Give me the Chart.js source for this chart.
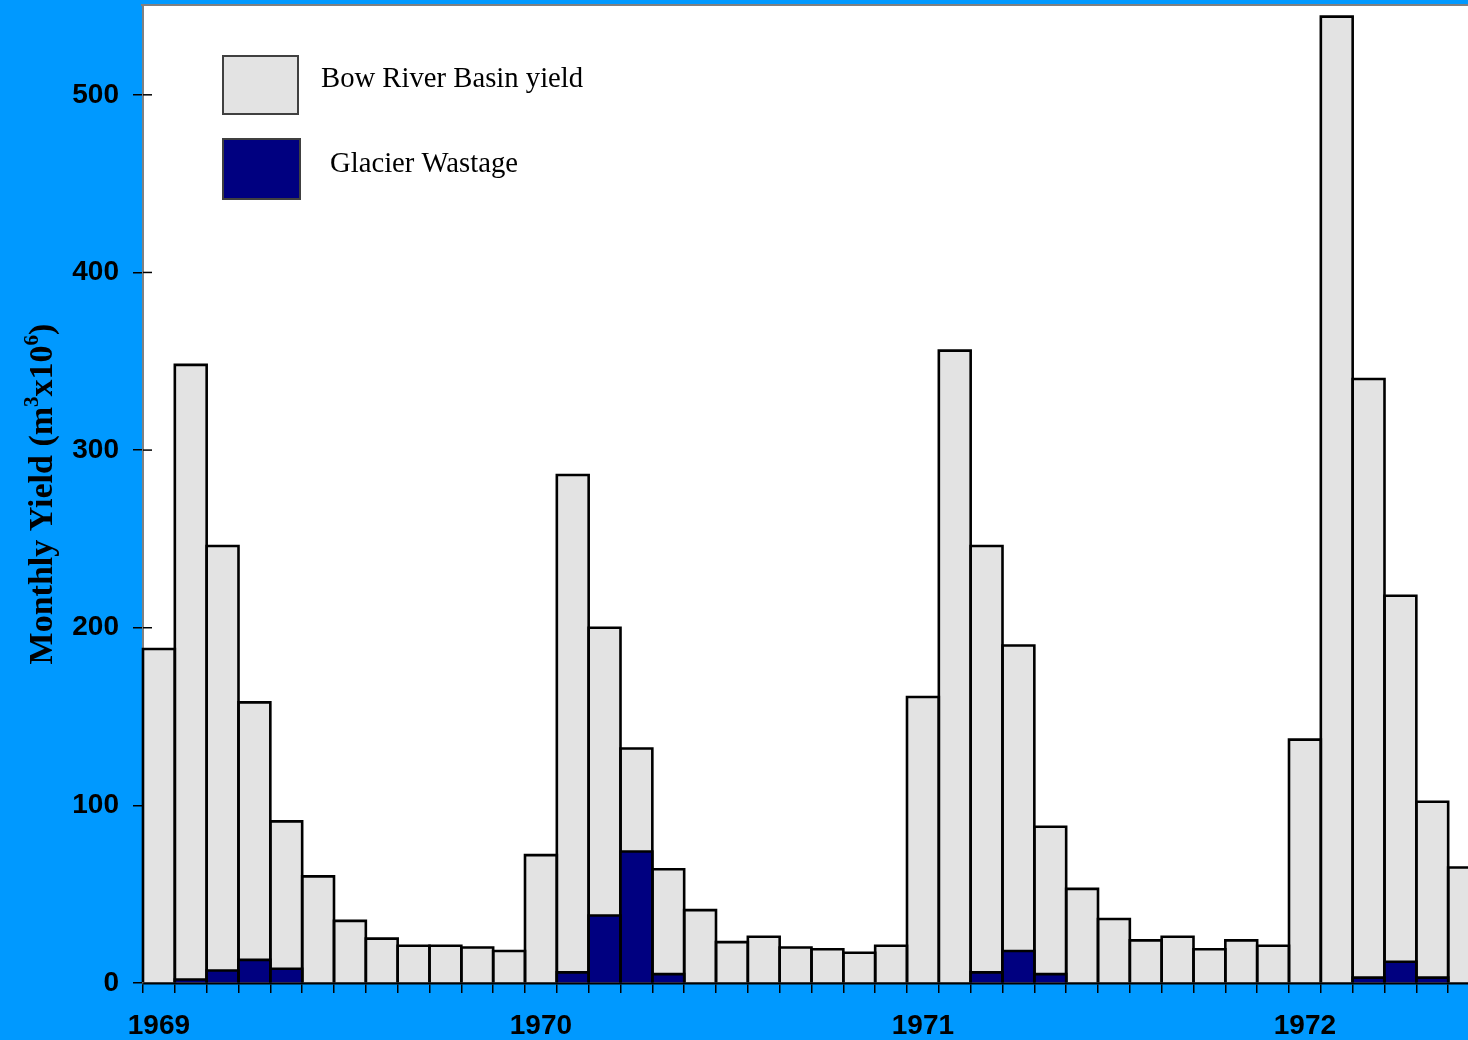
<!DOCTYPE html>
<html>
<head>
<meta charset="utf-8">
<script src="https://cdn.jsdelivr.net/npm/chart.js@4/dist/chart.umd.min.js"></script>
<style>
  html, body { margin: 0; padding: 0; background: #0099ff; overflow: hidden; width: 1468px; height: 1040px; }
  #wrap { position: relative; width: 1500px; height: 1040px; }
</style>
</head>
<body>
<div id="wrap"><canvas id="c" width="1500" height="1040"></canvas></div>
<script>
// ---- data ----
const yearLabels = ['1969', '1970', '1971', '1972'];
const monthsPerYear = 12;
const bowRiverYield = [
  188, 348, 246, 158, 91, 60, 35, 25, 21, 21, 20, 18,
  72, 286, 200, 132, 64, 41, 23, 26, 20, 19, 17, 21,
  161, 356, 246, 190, 88, 53, 36, 24, 26, 19, 24, 21,
  137, 544, 340, 218, 102, 65
];
const glacierWastage = [
  0, 2, 7, 13, 8, 0, 0, 0, 0, 0, 0, 0,
  0, 6, 38, 74, 5, 0, 0, 0, 0, 0, 0, 0,
  0, 0, 6, 18, 5, 0, 0, 0, 0, 0, 0, 0,
  0, 0, 3, 12, 3, 0
];
const yTicks = [0, 100, 200, 300, 400, 500];
const seriesLabels = ['Bow River Basin yield', 'Glacier Wastage'];
const yTitleParts = [['Monthly Yield (m', false], ['3', true], ['x10', false], ['6', true], [')', false]];

const categories = bowRiverYield.map((_, i) =>
  yearLabels[Math.floor(i / monthsPerYear)] + '-' + (i % monthsPerYear + 1));

const BLUE = '#0099ff';
const GRAY_FILL = '#e3e3e3';
const NAVY = '#000080';
const tickFont = { family: '"Liberation Sans", Arial, sans-serif', weight: 'bold', size: 28 };

const decoPlugin = {
  id: 'deco',
  beforeDraw(chart) {
    const { ctx, chartArea: a, width, height } = chart;
    ctx.save();
    ctx.fillStyle = BLUE;
    ctx.fillRect(0, 0, width, height);
    ctx.fillStyle = '#ffffff';
    ctx.fillRect(a.left, a.top, a.right - a.left, a.bottom - a.top);
    ctx.restore();
  },
  beforeDatasetsDraw(chart) {
    const { ctx, chartArea: a } = chart;
    const ys = chart.scales.y;
    ctx.save();
    ctx.strokeStyle = '#000';
    ctx.lineWidth = 1.5;
    yTicks.forEach(v => {
      const py = ys.getPixelForValue(v);
      ctx.beginPath();
      ctx.moveTo(a.left, py);
      ctx.lineTo(a.left + 9, py);
      ctx.stroke();
    });
    ctx.restore();
  },
  afterDatasetDraw(chart, args) {
    // outline each bar of the dataset just drawn (shared-edge outline like the original)
    const { ctx } = chart;
    ctx.save();
    ctx.strokeStyle = '#000';
    ctx.lineWidth = 2.6;
    ctx.lineJoin = 'miter';
    args.meta.data.forEach(el => {
      const p = el.getProps(['x', 'y', 'base', 'width'], true);
      if (Math.abs(p.base - p.y) < 0.5) return;
      const l = p.x - p.width / 2;
      ctx.beginPath();
      ctx.moveTo(l, p.base);
      ctx.lineTo(l, p.y);
      ctx.lineTo(l + p.width, p.y);
      ctx.lineTo(l + p.width, p.base);
      ctx.stroke();
    });
    ctx.restore();
  },
  afterDraw(chart) {
    const { ctx, chartArea: a } = chart;
    ctx.save();
    // top border of plot
    ctx.strokeStyle = '#808080';
    ctx.lineWidth = 2;
    ctx.beginPath();
    ctx.moveTo(a.left - 2, a.top - 1);
    ctx.lineTo(a.right, a.top - 1);
    ctx.stroke();

    // legend
    const ds = chart.data.datasets;
    const items = [
      { ds: ds[1], box: [80, 50, 75, 58], tx: 178, ty: 81 },
      { ds: ds[0], box: [80, 133, 77, 60], tx: 187, ty: 166 }
    ];
    items.forEach(it => {
      const [bx, by, bw, bh] = it.box;
      ctx.fillStyle = it.ds.backgroundColor;
      ctx.fillRect(a.left + bx, a.top + by, bw, bh);
      ctx.strokeStyle = '#404040';
      ctx.lineWidth = 2;
      ctx.strokeRect(a.left + bx, a.top + by, bw, bh);
      ctx.fillStyle = '#000';
      ctx.font = '28.7px "Liberation Serif", "Times New Roman", serif';
      ctx.textBaseline = 'alphabetic';
      ctx.textAlign = 'left';
      ctx.fillText(it.ds.label, a.left + it.tx, a.top + it.ty);
    });

    // y axis title with superscripts
    const fs = 34;
    const mainFont = `bold ${fs}px "Liberation Serif", "Times New Roman", serif`;
    const supFont = `bold ${Math.round(fs * 0.62)}px "Liberation Serif", "Times New Roman", serif`;
    let total = 0;
    const widths = yTitleParts.map(([t, sup]) => {
      ctx.font = sup ? supFont : mainFont;
      const w = ctx.measureText(t).width;
      total += w;
      return w;
    });
    const cy = 494;
    ctx.translate(52, cy);
    ctx.rotate(-Math.PI / 2);
    ctx.fillStyle = '#000';
    ctx.textBaseline = 'alphabetic';
    ctx.textAlign = 'left';
    let x = -total / 2;
    yTitleParts.forEach(([t, sup], i) => {
      ctx.font = sup ? supFont : mainFont;
      ctx.fillText(t, x, sup ? -fs * 0.42 : 0);
      x += widths[i];
    });
    ctx.restore();
  }
};

new Chart(document.getElementById('c'), {
  type: 'bar',
  data: {
    labels: categories,
    datasets: [
      {
        label: seriesLabels[1],
        data: glacierWastage,
        backgroundColor: NAVY,
        borderWidth: 0,
        inflateAmount: 0,
        order: 0
      },
      {
        label: seriesLabels[0],
        data: bowRiverYield,
        backgroundColor: GRAY_FILL,
        borderWidth: 0,
        inflateAmount: 0,
        order: 1
      }
    ]
  },
  options: {
    responsive: false,
    animation: false,
    devicePixelRatio: 1,
    datasets: { bar: { grouped: false, categoryPercentage: 1, barPercentage: 1 } },
    layout: { padding: { top: 6, right: 20, left: 0, bottom: 0 } },
    plugins: { legend: { display: false }, tooltip: { enabled: false } },
    scales: {
      x: {
        grid: { offset: true, drawOnChartArea: false, drawTicks: true, tickLength: 10, color: '#000', lineWidth: 1.5 },
        border: { color: '#000', width: 2.5 },
        ticks: {
          autoSkip: false, maxRotation: 0, minRotation: 0, padding: 16, color: '#000', font: tickFont,
          callback: (v, i) => (i % monthsPerYear === 0 ? yearLabels[i / monthsPerYear] : '')
        },
        afterFit: s => { s.height = 57; s.paddingLeft = 0; s.paddingRight = 0; }
      },
      y: {
        min: 0, max: 550,
        afterBuildTicks: s => { s.ticks = yTicks.map(v => ({ value: v })); },
        grid: { drawOnChartArea: false, drawTicks: true, tickLength: 10, color: '#000', lineWidth: 1.5 },
        border: { color: '#808080', width: 2 },
        ticks: { padding: 14, color: '#000', font: tickFont },
        afterFit: s => { s.width = 143; s.paddingTop = 0; s.paddingBottom = 0; }
      }
    }
  },
  plugins: [decoPlugin]
});
</script>
</body>
</html>
